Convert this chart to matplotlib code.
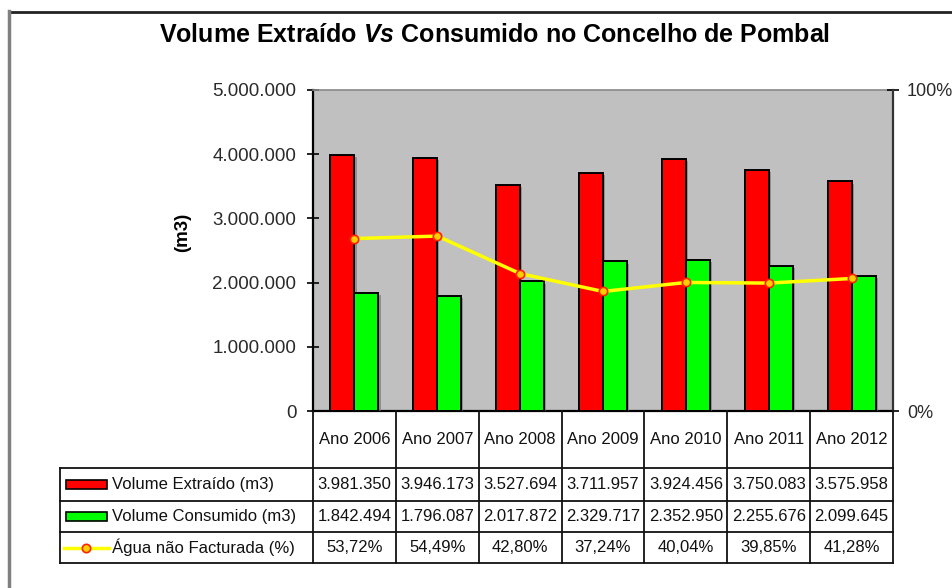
import matplotlib.pyplot as plt
import matplotlib.patheffects as pe
import matplotlib.transforms as mtransforms
from matplotlib.lines import Line2D
from matplotlib.patches import Rectangle

plt.rcParams['font.family'] = ['Liberation Sans', 'DejaVu Sans']
plt.rcParams['mathtext.fontset'] = 'custom'
plt.rcParams['mathtext.rm'] = 'Liberation Sans:bold'
plt.rcParams['mathtext.it'] = 'Liberation Sans:italic:bold'

anos = ["Ano 2006", "Ano 2007", "Ano 2008", "Ano 2009", "Ano 2010", "Ano 2011", "Ano 2012"]
extraido = [3981350, 3946173, 3527694, 3711957, 3924456, 3750083, 3575958]
consumido = [1842494, 1796087, 2017872, 2329717, 2352950, 2255676, 2099645]
nao_facturada = [53.72, 54.49, 42.80, 37.24, 40.04, 39.85, 41.28]

W, H = 953, 588


def fx(px):
    return px / W


def fy(py):
    return 1 - py / H


def milhares(n):
    return f"{n:,}".replace(",", ".")


def percent(v):
    return f"{v:.2f}%".replace(".", ",")


fig = plt.figure(figsize=(W / 100, H / 100), dpi=100)
ax = fig.add_axes([fx(313), fy(411), fx(893) - fx(313), fy(90) - fy(411)])
ax.set_facecolor('#C0C0C0')

x = list(range(len(anos)))
bw = 0.29
shadow = [pe.SimplePatchShadow(offset=(1.5, -1.5), shadow_rgbFace='#707070', alpha=0.6), pe.Normal()]
ax.bar([i - bw / 2 for i in x], extraido, bw, color='#FF0000', edgecolor='black', linewidth=1.4,
       path_effects=shadow, zorder=3)
ax.bar([i + bw / 2 for i in x], consumido, bw, color='#00FF00', edgecolor='black', linewidth=1.4,
       path_effects=shadow, zorder=3)
ax.set_xlim(-0.5, len(anos) - 0.5)
ax.set_ylim(0, 5000000)
ax.set_yticks(range(0, 5000001, 1000000))
ax.set_yticklabels([milhares(v) for v in range(0, 5000001, 1000000)])
ax.set_xticks([])
ax.tick_params(axis='y', direction='inout', length=8, width=1.2, pad=8, labelsize=13.5, labelcolor='#2a2a2a')
for s in ['left', 'bottom']:
    ax.spines[s].set_linewidth(1.6)
    ax.spines[s].set_color('black')
ax.spines['top'].set_color('#888888')
ax.spines['top'].set_linewidth(1.2)
ax.spines['right'].set_visible(False)

ax2 = ax.twinx()
ax2.plot(x, nao_facturada, color='#FFFF00', linewidth=2.5, marker='o', markersize=6,
         markerfacecolor='#FFCC00', markeredgecolor='#FF2200', markeredgewidth=1.2, zorder=5)
ax2.set_ylim(0, 100)
ax2.set_yticks([0, 100])
ax2.set_yticklabels(["0%", "100%"])
ax2.tick_params(axis='y', direction='inout', length=8, width=1.2, pad=6, labelsize=13, labelcolor='#2a2a2a')
ax2.spines['right'].set_linewidth(1.6)
ax2.spines['right'].set_color('#333333')
for s in ['left', 'top', 'bottom']:
    ax2.spines[s].set_visible(False)

fig.text(fx(495), fy(35), r"Volume Extraído $\mathit{Vs}$ Consumido no Concelho de Pombal",
         ha='center', va='center', fontsize=18, fontweight='bold')
fig.text(fx(183), fy(232), "(m3)", rotation=90, ha='center', va='center', fontsize=13.5, fontweight='bold')

# data table under the plot
tr = mtransforms.blended_transform_factory(ax.transData, fig.transFigure)
rows_y = [411, 468, 501, 532, 563]
lc = '#111111'
for b in range(len(anos) + 1):
    fig.add_artist(Line2D([b - 0.5, b - 0.5], [fy(411), fy(563)], color=lc, lw=1.3, transform=tr))
for py in rows_y[1:]:
    fig.add_artist(Line2D([fx(60), fx(893)], [fy(py), fy(py)], color=lc, lw=1.3))
fig.add_artist(Line2D([fx(60), fx(60)], [fy(468), fy(563)], color=lc, lw=1.3))

row_texts = [[milhares(v) for v in extraido], [milhares(v) for v in consumido],
             [percent(v) for v in nao_facturada]]
for i, ano in enumerate(anos):
    fig.text(i, fy(439.5), ano, transform=tr, ha='center', va='center', fontsize=12, color='#111111')
    for r, vals in enumerate(row_texts):
        cy = (rows_y[r + 1] + rows_y[r + 2]) / 2
        fig.text(i, fy(cy), vals[i], transform=tr, ha='center', va='center', fontsize=12, color='#111111')

labels = ["Volume Extraído (m3)", "Volume Consumido (m3)", "Água não Facturada (%)"]
for r, lab in enumerate(labels):
    cy = (rows_y[r + 1] + rows_y[r + 2]) / 2
    fig.text(fx(112), fy(cy), lab, ha='left', va='center', fontsize=12, color='#111111')
for r, col in enumerate(['#FF0000', '#00FF00']):
    cy = (rows_y[r + 1] + rows_y[r + 2]) / 2
    fig.add_artist(Rectangle((fx(66), fy(cy + 4.5)), fx(107) - fx(66), fy(cy - 4.5) - fy(cy + 4.5),
                             facecolor=col, edgecolor='black', lw=1.2, transform=fig.transFigure))
cy = (rows_y[3] + rows_y[4]) / 2
fig.add_artist(Line2D([fx(64), fx(109)], [fy(cy), fy(cy)], color='#FFFF00', lw=2.5))
fig.add_artist(Line2D([fx(86)], [fy(cy)], marker='o', markersize=6, markerfacecolor='#FFCC00',
                      markeredgecolor='#FF2200', markeredgewidth=1.2))

# outer frame
fig.add_artist(Line2D([fx(9), fx(953)], [fy(12), fy(12)], color='#222222', lw=2))
fig.add_artist(Line2D([fx(9), fx(9)], [fy(11), fy(588)], color='#808080', lw=2.5))

fig.savefig("out.png", dpi=100)
